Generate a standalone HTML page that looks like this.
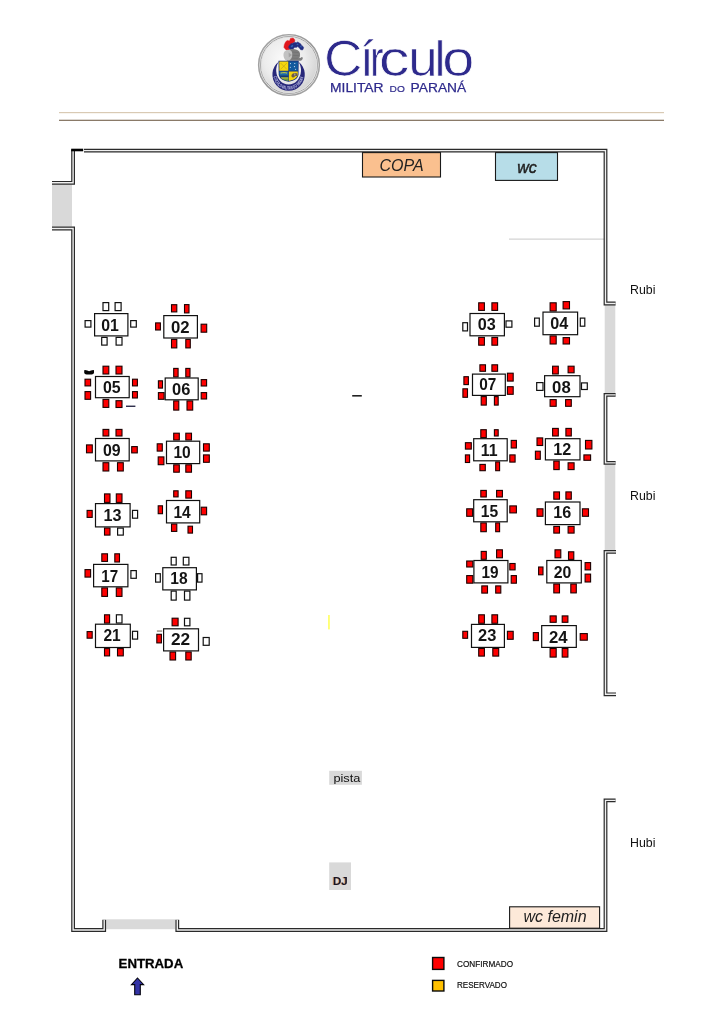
<!DOCTYPE html>
<html lang="pt-BR">
<head>
<meta charset="utf-8">
<title>Círculo Militar do Paraná - Mapa de Mesas</title>
<style>
html,body{margin:0;padding:0;background:#fff;}
body{width:724px;height:1024px;overflow:hidden;position:relative;font-family:"Liberation Sans",sans-serif;}
svg{position:absolute;left:0;top:0;display:block;will-change:transform;}
text{font-family:"Liberation Sans",sans-serif;}
.n{font-weight:bold;font-size:16.5px;fill:#141414;}
.lab{font-size:13px;fill:#111;}
.box{font-style:italic;font-size:16px;fill:#222;}
.leg{font-size:8.8px;fill:#111;stroke:#111;stroke-width:0.2px;}
</style>
</head>
<body>
<svg width="724" height="1024" viewBox="0 0 724 1024">
<defs>
<radialGradient id="bg" cx="42%" cy="40%" r="62%">
<stop offset="0" stop-color="#fbfbfb"/><stop offset="0.6" stop-color="#ececec"/><stop offset="1" stop-color="#d4d4d4"/>
</radialGradient>
<linearGradient id="ring" x1="0" y1="0" x2="1" y2="1">
<stop offset="0" stop-color="#aaaaaa"/><stop offset="0.5" stop-color="#989898"/><stop offset="1" stop-color="#a6a6a6"/>
</linearGradient>
</defs>

<!-- header logo -->
<g id="logo">
<circle cx="289" cy="65" r="27.6" fill="url(#bg)"/>
<circle cx="289" cy="65" r="30.25" fill="none" stroke="url(#ring)" stroke-width="1.7"/>
<circle cx="289" cy="65" r="29.2" fill="none" stroke="#d8d8d8" stroke-width="0.8"/>
<circle cx="289" cy="65" r="28.45" fill="none" stroke="#8c8c8c" stroke-width="0.85"/>
<circle cx="289" cy="65" r="27.75" fill="none" stroke="#dcdcdc" stroke-width="0.7"/>
<!-- crescent ribbon -->
<path id="cresc" d="M278.98,61.57 A16.2,16.2 0 1 0 298.22,61.57 A12.4,14 0 1 1 278.98,61.57 Z" fill="#28287a"/>
<path id="arc" d="M273.6,76.6 A15.15,15.15 0 0 0 303.6,76.6" fill="none"/>
<text font-size="4.8" font-weight="bold" fill="#b9bce4"><textPath href="#arc" startOffset="0" textLength="44.5" lengthAdjust="spacingAndGlyphs">CÍRCULO MILITAR DO PARANÁ</textPath></text>
<!-- plumes -->
<path d="M287.6,50.4 L285.6,49.4 L283.9,47.3 L284.4,44.4 L285.7,41.8 L287.3,40.5 L289.5,41 L290.5,38.4 L293.1,38 L294.9,39.9 L294.4,41.9 L292.4,43.2 L290.4,45.4 L289.6,48 L289.4,49.8 Z" fill="#e0161c" stroke="#e0161c" stroke-width="0.5" stroke-linejoin="round"/>
<path d="M288.5,47.2 L289.6,45 L291,43.7 L292.8,43.3 L294.7,42.2 L296.3,42.7 L297.8,41.9 L299.3,43 L300.6,43.8 L301.6,45.4 L303,46.4 L303.7,47.8 L302.6,50 L300.7,49.7 L299.6,48.2 L297.8,46.6 L296.2,47.4 L294.7,47.2 L293.3,48.8 L292,50.2 L289.9,49.2 Z" fill="#222c80" stroke="#222c80" stroke-width="0.5" stroke-linejoin="round"/>
<path d="M290.6,46.4 L292.2,44.8 L293.4,45.6 L292,47.4 Z M296.4,44 L298,43.6 L298.6,44.8 L297,45.2 Z M300.6,45.6 L301.8,46.8 L301.2,47.8 L300,46.6 Z" fill="#2f62b4"/>
<!-- helmet -->
<path d="M291,49.1 C294,48.4 297.6,49.4 299.4,51.7 C300.4,53.6 300.2,56.2 299.4,58 C300.6,58.2 301.2,57.2 302,57 C303,57.4 303,58.6 302.3,59.4 C301.4,60.6 300.4,60.9 299.9,60.8 L287,60.8 L287,51 Z" fill="#7e7e7e"/>
<path d="M283.5,55.4 C283.3,52 285.6,49.8 288.6,49.8 C290.6,49.8 292,51 292.2,53.2 C292.6,56.6 291.4,59.4 288.8,60.6 L286.2,60.6 C284.6,59.6 283.6,57.6 283.5,55.4 Z" fill="#c2c2c2"/>
<path d="M288.6,52.6 L292,55 L288.8,57.4 Z" fill="#a4a4a4"/>
<path d="M292.4,52 L298.6,52.6 M292.6,55.4 L298.8,55.6 M292.2,58.2 L298,58.4" stroke="#6a6a6a" stroke-width="0.5" fill="none"/>
<!-- shield -->
<path d="M278.5,60.7 L298.7,60.7 L298.5,74.6 C298.3,78.4 294.4,80.8 288.6,81.8 C282.8,80.8 278.9,78.4 278.7,74.6 Z" fill="#1b2f78"/>
<path d="M279.3,61.4 L288.3,61.4 L288.3,70.8 L279.4,70.8 Z" fill="#f4d70c"/>
<path d="M280.6,63 L286.9,69.4 M286.9,63 L280.6,69.4" stroke="#b49a20" stroke-width="0.55" fill="none"/>
<path d="M288.9,61.4 L297.9,61.4 L297.8,70.8 L288.9,70.8 Z" fill="#125a9e"/>
<g fill="#e6eefc"><circle cx="290.4" cy="63.6" r="0.55"/><circle cx="294.8" cy="63.5" r="0.55"/><circle cx="290.3" cy="67.2" r="0.5"/><circle cx="294.4" cy="66.6" r="0.55"/><circle cx="295.6" cy="69.2" r="0.5"/></g>
<path d="M279.4,71.4 L288.3,71.4 L288.3,81 C283.6,80.2 279.6,78 279.5,74.6 Z" fill="#1a69a8"/>
<path d="M280.4,72.6 C282.6,71.9 285.4,71.9 287.4,72.6 L287,73.7 C285,73.2 282.8,73.2 280.8,73.7 Z" fill="#b9c24a"/>
<path d="M279.8,75.6 L288.3,75.6 L288.3,77.4 L280.6,77.4 Z" fill="#173a70"/>
<path d="M280.7,77.5 L288.3,77.5 L288.3,81 C285.2,80.4 282.2,79.4 280.7,77.5 Z" fill="#6b9c34"/>
<path d="M281,77.6 L288.3,77.6 L288.3,78.4 L281.6,78.4 Z" fill="#c8b63c"/>
<path d="M288.9,71.4 L297.8,71.4 L297.7,74.6 C297.6,78 293.6,80.2 288.9,81 Z" fill="#f4d40c"/>
<path d="M291.4,76 C291.4,73.8 293.6,72.6 296.4,73 L297.4,74 L297.2,76.2 C295.8,75.8 294.6,76.4 293.6,77.6 C292.6,77.6 291.6,77 291.4,76 Z" fill="#6e5a48"/>
<path d="M294,73.6 L295.6,73.4 L295.4,75.4 L294,75.6 Z" fill="#9a9a9a"/>
</g>
<g id="logotext" fill="#2e2a8c">
<text y="76" font-size="49.6" stroke="#ffffff" stroke-width="0.7"><tspan x="323.90" textLength="38.43" lengthAdjust="spacingAndGlyphs">C</tspan><tspan x="359.95" textLength="13.78" lengthAdjust="spacingAndGlyphs">í</tspan><tspan x="370.10" textLength="13.54" lengthAdjust="spacingAndGlyphs">r</tspan><tspan x="378.89" textLength="30.73" lengthAdjust="spacingAndGlyphs">c</tspan><tspan x="408.26" textLength="29.46" lengthAdjust="spacingAndGlyphs">u</tspan><tspan x="434.48" textLength="11.02" lengthAdjust="spacingAndGlyphs">l</tspan><tspan x="442.18" textLength="32.04" lengthAdjust="spacingAndGlyphs">o</tspan></text>
<text x="330" y="92" font-size="13" textLength="53.6" lengthAdjust="spacingAndGlyphs" stroke="#2e2a8c" stroke-width="0.25">MILITAR</text>
<text x="389.6" y="92" font-size="9.6" textLength="15.2" lengthAdjust="spacingAndGlyphs" stroke="#2e2a8c" stroke-width="0.2">DO</text>
<text x="410.6" y="92" font-size="13" textLength="55.6" lengthAdjust="spacingAndGlyphs" stroke="#2e2a8c" stroke-width="0.25">PARANÁ</text>
</g>
<rect x="59" y="112" width="605" height="1.2" fill="#d9cab4"/>
<rect x="59" y="119.7" width="605" height="1.3" fill="#8a7a68"/>

<!-- grey openings -->
<rect x="52" y="184.5" width="20" height="42.2" fill="#d9d9d9"/>
<rect x="604.7" y="305" width="10.6" height="88.2" fill="#d9d9d9"/>
<rect x="604.7" y="464.6" width="10.6" height="85.8" fill="#d9d9d9"/>
<rect x="106" y="919.3" width="69.4" height="9.9" fill="#d9d9d9"/>
<rect x="509" y="238.6" width="95" height="1" fill="#c9c9c9"/>

<path d="M52,182.8 L73.1,182.8 L73.1,149.4 M84,150.6 L605.5,150.6 L605.5,303.5 L615.6,303.5 M52,228.5 L73.1,228.5 L73.1,930 L104.2,930 L104.2,919.8 M177.3,919.8 L177.3,930 L605.5,930 L605.5,800.4 L615.6,800.4 M615.6,394.9 L605.5,394.9 L605.5,462.9 L615.6,462.9 M616,551.9 L605.5,551.9 L605.5,694.3 L616,694.3" fill="none" stroke="#2a2a2a" stroke-width="3.8" stroke-linejoin="miter"/>
<path d="M52,182.8 L73.1,182.8 L73.1,149.4 M84,150.6 L605.5,150.6 L605.5,303.5 L615.6,303.5 M52,228.5 L73.1,228.5 L73.1,930 L104.2,930 L104.2,919.8 M177.3,919.8 L177.3,930 L605.5,930 L605.5,800.4 L615.6,800.4 M615.6,394.9 L605.5,394.9 L605.5,462.9 L615.6,462.9 M616,551.9 L605.5,551.9 L605.5,694.3 L616,694.3" fill="none" stroke="#efefef" stroke-width="1.4" stroke-linejoin="miter"/>
<rect x="71.2" y="148.7" width="12" height="2.6" fill="#000"/>

<!-- rooms -->
<rect x="362.5" y="152.6" width="78" height="24.4" fill="#fac08f" stroke="#1a1a1a" stroke-width="1.1"/>
<text class="box" x="401.5" y="170.6" text-anchor="middle" font-size="15.5">COPA</text>
<rect x="495.5" y="152.6" width="62" height="27.8" fill="#b7dde8" stroke="#1a1a1a" stroke-width="1.1"/>
<text class="box" x="527" y="172.8" text-anchor="middle" stroke="#222" stroke-width="0.45">wc</text>
<rect x="509.6" y="906.8" width="90" height="21.4" fill="#fde9d9" stroke="#1a1a1a" stroke-width="1.1"/>
<text class="box" x="555" y="922.4" text-anchor="middle">wc femin</text>

<text class="lab" x="630" y="293.6" textLength="25.4" lengthAdjust="spacingAndGlyphs">Rubi</text>
<text class="lab" x="630" y="500" textLength="25.4" lengthAdjust="spacingAndGlyphs">Rubi</text>
<text class="lab" x="630" y="847" textLength="25.4" lengthAdjust="spacingAndGlyphs">Hubi</text>

<!-- stray marks -->
<path d="M84.2,370.6 Q84.3,370 85,370.1 Q87.5,370.3 89.1,371.3 Q90.8,370.3 93.3,370.1 Q94,370 94,370.6 L94,372.8 Q93.8,374.6 91.6,374.6 L86.6,374.6 Q84.4,374.6 84.2,372.8 Z" fill="#050505"/>
<rect x="126" y="405.6" width="9.4" height="1.3" fill="#1a1a3a"/>
<rect x="352.2" y="395" width="9.6" height="1.6" fill="#222"/>
<rect x="156.9" y="630.5" width="5.3" height="1.1" fill="#7a6a5a"/>
<rect x="328.1" y="615" width="1.7" height="14.4" fill="#ffff66"/>

<g id="tables">
<g>
<rect x="103" y="302.6" width="5.7" height="8" fill="#ffffff" stroke="#111" stroke-width="1.2"/>
<rect x="115.1" y="302.6" width="6" height="8" fill="#ffffff" stroke="#111" stroke-width="1.2"/>
<rect x="85.1" y="320.6" width="5.8" height="6.5" fill="#ffffff" stroke="#111" stroke-width="1.2"/>
<rect x="130.7" y="320.6" width="5.6" height="6.5" fill="#ffffff" stroke="#111" stroke-width="1.2"/>
<rect x="101.7" y="337.4" width="5.4" height="7.7" fill="#ffffff" stroke="#111" stroke-width="1.2"/>
<rect x="116.1" y="337.4" width="5.9" height="7.7" fill="#ffffff" stroke="#111" stroke-width="1.2"/>
<rect x="94.6" y="313.6" width="33.3" height="22.3" fill="#fff" stroke="#111" stroke-width="1.2"/>
<text class="n" x="101.3" y="330.6" textLength="17.6" lengthAdjust="spacingAndGlyphs">01</text>
</g>
<g>
<rect x="171.5" y="304.7" width="5.3" height="7.2" fill="#ff0000" stroke="#1c0000" stroke-width="1.1"/>
<rect x="184.5" y="304.6" width="4.5" height="8.3" fill="#ff0000" stroke="#1c0000" stroke-width="1.1"/>
<rect x="155.6" y="322.9" width="4.8" height="7.1" fill="#ff0000" stroke="#1c0000" stroke-width="1.1"/>
<rect x="201.1" y="324.2" width="5.6" height="8" fill="#ff0000" stroke="#1c0000" stroke-width="1.1"/>
<rect x="171.5" y="339.4" width="5.3" height="8.5" fill="#ff0000" stroke="#1c0000" stroke-width="1.1"/>
<rect x="185.8" y="339.4" width="4.5" height="8.5" fill="#ff0000" stroke="#1c0000" stroke-width="1.1"/>
<rect x="163.8" y="315.6" width="33.6" height="22.4" fill="#fff" stroke="#111" stroke-width="1.2"/>
<text class="n" x="170.9" y="332.7" textLength="18.6" lengthAdjust="spacingAndGlyphs">02</text>
</g>
<g>
<rect x="103" y="366.2" width="5.8" height="7.8" fill="#ff0000" stroke="#1c0000" stroke-width="1.1"/>
<rect x="116" y="366.2" width="6" height="7.8" fill="#ff0000" stroke="#1c0000" stroke-width="1.1"/>
<rect x="85" y="379.2" width="5.6" height="6.7" fill="#ff0000" stroke="#1c0000" stroke-width="1.1"/>
<rect x="85" y="391.6" width="5.6" height="7.7" fill="#ff0000" stroke="#1c0000" stroke-width="1.1"/>
<rect x="132.5" y="379.2" width="4.9" height="6.7" fill="#ff0000" stroke="#1c0000" stroke-width="1.1"/>
<rect x="132.5" y="391.6" width="4.9" height="6.4" fill="#ff0000" stroke="#1c0000" stroke-width="1.1"/>
<rect x="103" y="399.4" width="5.8" height="8" fill="#ff0000" stroke="#1c0000" stroke-width="1.1"/>
<rect x="116" y="400.7" width="6" height="6.8" fill="#ff0000" stroke="#1c0000" stroke-width="1.1"/>
<rect x="95.5" y="376.5" width="33.7" height="21.2" fill="#fff" stroke="#111" stroke-width="1.2"/>
<text class="n" x="103" y="392.7" textLength="17.7" lengthAdjust="spacingAndGlyphs">05</text>
</g>
<g>
<rect x="173.7" y="368.4" width="4.4" height="8.5" fill="#ff0000" stroke="#1c0000" stroke-width="1.1"/>
<rect x="185.8" y="368.4" width="4.2" height="8.5" fill="#ff0000" stroke="#1c0000" stroke-width="1.1"/>
<rect x="158.4" y="380.8" width="4.1" height="7.3" fill="#ff0000" stroke="#1c0000" stroke-width="1.1"/>
<rect x="158.4" y="392.6" width="5.7" height="6.7" fill="#ff0000" stroke="#1c0000" stroke-width="1.1"/>
<rect x="201.2" y="379.6" width="5.4" height="6.4" fill="#ff0000" stroke="#1c0000" stroke-width="1.1"/>
<rect x="201.2" y="392.6" width="5.4" height="6.4" fill="#ff0000" stroke="#1c0000" stroke-width="1.1"/>
<rect x="173.7" y="400.9" width="5.1" height="9.2" fill="#ff0000" stroke="#1c0000" stroke-width="1.1"/>
<rect x="187" y="400.9" width="5.7" height="9.2" fill="#ff0000" stroke="#1c0000" stroke-width="1.1"/>
<rect x="165.2" y="378" width="33" height="21.8" fill="#fff" stroke="#111" stroke-width="1.2"/>
<text class="n" x="172.1" y="394.5" textLength="18.3" lengthAdjust="spacingAndGlyphs">06</text>
</g>
<g>
<rect x="103" y="429.4" width="5.8" height="6.6" fill="#ff0000" stroke="#1c0000" stroke-width="1.1"/>
<rect x="116" y="429.4" width="6" height="6.6" fill="#ff0000" stroke="#1c0000" stroke-width="1.1"/>
<rect x="86.5" y="444.9" width="5.8" height="7.9" fill="#ff0000" stroke="#1c0000" stroke-width="1.1"/>
<rect x="131.7" y="446.6" width="5.6" height="6.3" fill="#ff0000" stroke="#1c0000" stroke-width="1.1"/>
<rect x="103" y="462.7" width="5.8" height="8.3" fill="#ff0000" stroke="#1c0000" stroke-width="1.1"/>
<rect x="117.5" y="462.7" width="5.8" height="8.3" fill="#ff0000" stroke="#1c0000" stroke-width="1.1"/>
<rect x="95.5" y="438.5" width="33.7" height="22.4" fill="#fff" stroke="#111" stroke-width="1.2"/>
<text class="n" x="103" y="455.5" textLength="17.7" lengthAdjust="spacingAndGlyphs">09</text>
</g>
<g>
<rect x="173.7" y="433.2" width="5.6" height="6.8" fill="#ff0000" stroke="#1c0000" stroke-width="1.1"/>
<rect x="185.8" y="433.2" width="5.7" height="6.8" fill="#ff0000" stroke="#1c0000" stroke-width="1.1"/>
<rect x="157.2" y="443.8" width="5.1" height="7.3" fill="#ff0000" stroke="#1c0000" stroke-width="1.1"/>
<rect x="158.2" y="456.9" width="5.7" height="7.8" fill="#ff0000" stroke="#1c0000" stroke-width="1.1"/>
<rect x="203.5" y="443.8" width="5.8" height="7.3" fill="#ff0000" stroke="#1c0000" stroke-width="1.1"/>
<rect x="203.5" y="454.9" width="5.8" height="7.4" fill="#ff0000" stroke="#1c0000" stroke-width="1.1"/>
<rect x="173.7" y="464.8" width="5.6" height="7.4" fill="#ff0000" stroke="#1c0000" stroke-width="1.1"/>
<rect x="185.8" y="464.8" width="5.7" height="7.4" fill="#ff0000" stroke="#1c0000" stroke-width="1.1"/>
<rect x="166.5" y="441.2" width="33.2" height="22.4" fill="#fff" stroke="#111" stroke-width="1.2"/>
<text class="n" x="173.4" y="458.4" textLength="17.3" lengthAdjust="spacingAndGlyphs">10</text>
</g>
<g>
<rect x="104.5" y="493.9" width="5.5" height="8.5" fill="#ff0000" stroke="#1c0000" stroke-width="1.1"/>
<rect x="116.3" y="493.9" width="5.7" height="8.5" fill="#ff0000" stroke="#1c0000" stroke-width="1.1"/>
<rect x="87.1" y="510.4" width="5.1" height="7" fill="#ff0000" stroke="#1c0000" stroke-width="1.1"/>
<rect x="132.5" y="510.4" width="5.1" height="7.8" fill="#ffffff" stroke="#111" stroke-width="1.2"/>
<rect x="104.5" y="528" width="5.5" height="7.1" fill="#ff0000" stroke="#1c0000" stroke-width="1.1"/>
<rect x="117.6" y="528.1" width="5.7" height="7" fill="#ffffff" stroke="#111" stroke-width="1.2"/>
<rect x="95.5" y="503.6" width="34.6" height="23.3" fill="#fff" stroke="#111" stroke-width="1.2"/>
<text class="n" x="103.4" y="520.8" textLength="18" lengthAdjust="spacingAndGlyphs">13</text>
</g>
<g>
<rect x="173.7" y="490.8" width="4.4" height="6.1" fill="#ff0000" stroke="#1c0000" stroke-width="1.1"/>
<rect x="185.8" y="490.8" width="5.7" height="7.3" fill="#ff0000" stroke="#1c0000" stroke-width="1.1"/>
<rect x="158.2" y="505.8" width="4.3" height="7.9" fill="#ff0000" stroke="#1c0000" stroke-width="1.1"/>
<rect x="201.2" y="507.2" width="5.4" height="7.6" fill="#ff0000" stroke="#1c0000" stroke-width="1.1"/>
<rect x="171.5" y="524" width="5.3" height="7.4" fill="#ff0000" stroke="#1c0000" stroke-width="1.1"/>
<rect x="188" y="526.2" width="4.5" height="6.9" fill="#ff0000" stroke="#1c0000" stroke-width="1.1"/>
<rect x="166.5" y="500.5" width="33.2" height="22.4" fill="#fff" stroke="#111" stroke-width="1.2"/>
<text class="n" x="173.4" y="517.7" textLength="17.3" lengthAdjust="spacingAndGlyphs">14</text>
</g>
<g>
<rect x="101.8" y="553.8" width="5.7" height="7.6" fill="#ff0000" stroke="#1c0000" stroke-width="1.1"/>
<rect x="114.8" y="553.8" width="4.7" height="8.2" fill="#ff0000" stroke="#1c0000" stroke-width="1.1"/>
<rect x="85" y="569.6" width="5.6" height="7.5" fill="#ff0000" stroke="#1c0000" stroke-width="1.1"/>
<rect x="130.9" y="570.6" width="5.4" height="7.7" fill="#ffffff" stroke="#111" stroke-width="1.2"/>
<rect x="101.8" y="587.9" width="5.7" height="8.5" fill="#ff0000" stroke="#1c0000" stroke-width="1.1"/>
<rect x="116.3" y="587.9" width="5.7" height="8.5" fill="#ff0000" stroke="#1c0000" stroke-width="1.1"/>
<rect x="93.6" y="564.4" width="34.3" height="22.4" fill="#fff" stroke="#111" stroke-width="1.2"/>
<text class="n" x="101.3" y="581.5" textLength="16.9" lengthAdjust="spacingAndGlyphs">17</text>
</g>
<g>
<rect x="171.2" y="557.3" width="5" height="7.7" fill="#ffffff" stroke="#111" stroke-width="1.2"/>
<rect x="183.3" y="557.3" width="5.6" height="7.7" fill="#ffffff" stroke="#111" stroke-width="1.2"/>
<rect x="155.6" y="573.7" width="4.7" height="8.4" fill="#ffffff" stroke="#111" stroke-width="1.2"/>
<rect x="197.6" y="573.7" width="4.4" height="8.4" fill="#ffffff" stroke="#111" stroke-width="1.2"/>
<rect x="171.2" y="591.1" width="5" height="9" fill="#ffffff" stroke="#111" stroke-width="1.2"/>
<rect x="184.5" y="591.1" width="5.4" height="9" fill="#ffffff" stroke="#111" stroke-width="1.2"/>
<rect x="162.8" y="567.7" width="33.6" height="22.2" fill="#fff" stroke="#111" stroke-width="1.2"/>
<text class="n" x="170.3" y="584.3" textLength="17.3" lengthAdjust="spacingAndGlyphs">18</text>
</g>
<g>
<rect x="104.5" y="614.8" width="5.1" height="8.3" fill="#ff0000" stroke="#1c0000" stroke-width="1.1"/>
<rect x="116.4" y="614.8" width="5.6" height="8.2" fill="#ffffff" stroke="#111" stroke-width="1.2"/>
<rect x="87.1" y="631.6" width="5.1" height="6.6" fill="#ff0000" stroke="#1c0000" stroke-width="1.1"/>
<rect x="132.5" y="631.3" width="5.1" height="7.8" fill="#ffffff" stroke="#111" stroke-width="1.2"/>
<rect x="104.5" y="648.6" width="5.1" height="7.3" fill="#ff0000" stroke="#1c0000" stroke-width="1.1"/>
<rect x="117.5" y="648.6" width="5.8" height="7.3" fill="#ff0000" stroke="#1c0000" stroke-width="1.1"/>
<rect x="95.5" y="624.2" width="34.8" height="23.3" fill="#fff" stroke="#111" stroke-width="1.2"/>
<text class="n" x="103.4" y="641.3" textLength="17.3" lengthAdjust="spacingAndGlyphs">21</text>
</g>
<g>
<rect x="172.1" y="618.2" width="6" height="7.6" fill="#ff0000" stroke="#1c0000" stroke-width="1.1"/>
<rect x="184.5" y="618.3" width="5.4" height="7.5" fill="#ffffff" stroke="#111" stroke-width="1.2"/>
<rect x="156.8" y="634.3" width="4.6" height="8.6" fill="#ff0000" stroke="#1c0000" stroke-width="1.1"/>
<rect x="203.2" y="637.5" width="6" height="7.8" fill="#ffffff" stroke="#111" stroke-width="1.2"/>
<rect x="170" y="652" width="5.6" height="8" fill="#ff0000" stroke="#1c0000" stroke-width="1.1"/>
<rect x="185.8" y="652" width="5.4" height="8" fill="#ff0000" stroke="#1c0000" stroke-width="1.1"/>
<rect x="163.6" y="628.8" width="34.9" height="22.1" fill="#fff" stroke="#111" stroke-width="1.2"/>
<text class="n" x="170.9" y="644.8" textLength="19.2" lengthAdjust="spacingAndGlyphs">22</text>
</g>
<g>
<rect x="478.7" y="302.8" width="5.7" height="7.6" fill="#ff0000" stroke="#1c0000" stroke-width="1.1"/>
<rect x="491.9" y="302.8" width="5.7" height="7.6" fill="#ff0000" stroke="#1c0000" stroke-width="1.1"/>
<rect x="462.8" y="322.7" width="4.7" height="8.2" fill="#ffffff" stroke="#111" stroke-width="1.2"/>
<rect x="506" y="320.9" width="5.9" height="6.3" fill="#ffffff" stroke="#111" stroke-width="1.2"/>
<rect x="478.7" y="337.4" width="5.7" height="7.8" fill="#ff0000" stroke="#1c0000" stroke-width="1.1"/>
<rect x="491.9" y="337.4" width="5.7" height="7.8" fill="#ff0000" stroke="#1c0000" stroke-width="1.1"/>
<rect x="470" y="313.5" width="34.4" height="22.3" fill="#fff" stroke="#111" stroke-width="1.2"/>
<text class="n" x="477.7" y="330.3" textLength="18" lengthAdjust="spacingAndGlyphs">03</text>
</g>
<g>
<rect x="550.1" y="302.8" width="6.1" height="8.2" fill="#ff0000" stroke="#1c0000" stroke-width="1.1"/>
<rect x="563.1" y="301.6" width="6.4" height="7.3" fill="#ff0000" stroke="#1c0000" stroke-width="1.1"/>
<rect x="534.6" y="318.1" width="4.7" height="8.1" fill="#ffffff" stroke="#111" stroke-width="1.2"/>
<rect x="580.3" y="318.1" width="4.5" height="8.1" fill="#ffffff" stroke="#111" stroke-width="1.2"/>
<rect x="550.1" y="335.9" width="6.1" height="8.1" fill="#ff0000" stroke="#1c0000" stroke-width="1.1"/>
<rect x="563.1" y="337.6" width="6.4" height="6.4" fill="#ff0000" stroke="#1c0000" stroke-width="1.1"/>
<rect x="543" y="312.1" width="34.6" height="22.6" fill="#fff" stroke="#111" stroke-width="1.2"/>
<text class="n" x="550.2" y="329.3" textLength="18" lengthAdjust="spacingAndGlyphs">04</text>
</g>
<g>
<rect x="479.9" y="364.8" width="5.6" height="6.5" fill="#ff0000" stroke="#1c0000" stroke-width="1.1"/>
<rect x="491.9" y="364.8" width="5.7" height="6.5" fill="#ff0000" stroke="#1c0000" stroke-width="1.1"/>
<rect x="463.9" y="376.7" width="4.5" height="7.9" fill="#ff0000" stroke="#1c0000" stroke-width="1.1"/>
<rect x="462.9" y="388.8" width="4.6" height="8.5" fill="#ff0000" stroke="#1c0000" stroke-width="1.1"/>
<rect x="507.4" y="373.2" width="5.8" height="7.9" fill="#ff0000" stroke="#1c0000" stroke-width="1.1"/>
<rect x="507.4" y="386.7" width="5.8" height="7.6" fill="#ff0000" stroke="#1c0000" stroke-width="1.1"/>
<rect x="481.2" y="396.6" width="5.1" height="8.5" fill="#ff0000" stroke="#1c0000" stroke-width="1.1"/>
<rect x="494.4" y="396.6" width="3.8" height="8.5" fill="#ff0000" stroke="#1c0000" stroke-width="1.1"/>
<rect x="472.5" y="374.1" width="32.8" height="21.3" fill="#fff" stroke="#111" stroke-width="1.2"/>
<text class="n" x="479.2" y="390.1" textLength="17.1" lengthAdjust="spacingAndGlyphs">07</text>
</g>
<g>
<rect x="552.6" y="366.2" width="5.7" height="7.8" fill="#ff0000" stroke="#1c0000" stroke-width="1.1"/>
<rect x="568.1" y="366.2" width="6" height="6.6" fill="#ff0000" stroke="#1c0000" stroke-width="1.1"/>
<rect x="536.7" y="382.6" width="6.3" height="7.8" fill="#ffffff" stroke="#111" stroke-width="1.2"/>
<rect x="581.5" y="382.9" width="5.8" height="6.6" fill="#ffffff" stroke="#111" stroke-width="1.2"/>
<rect x="550.1" y="399.6" width="6.1" height="6.7" fill="#ff0000" stroke="#1c0000" stroke-width="1.1"/>
<rect x="565.6" y="399.6" width="5.7" height="6.7" fill="#ff0000" stroke="#1c0000" stroke-width="1.1"/>
<rect x="544.6" y="375.7" width="35.4" height="21" fill="#fff" stroke="#111" stroke-width="1.2"/>
<text class="n" x="552.1" y="392.5" textLength="18.6" lengthAdjust="spacingAndGlyphs">08</text>
</g>
<g>
<rect x="480.8" y="429.7" width="5.5" height="7.9" fill="#ff0000" stroke="#1c0000" stroke-width="1.1"/>
<rect x="494.4" y="429.7" width="3.8" height="6.3" fill="#ff0000" stroke="#1c0000" stroke-width="1.1"/>
<rect x="465.4" y="442.7" width="5.9" height="6.4" fill="#ff0000" stroke="#1c0000" stroke-width="1.1"/>
<rect x="465.4" y="454.9" width="4.2" height="7.6" fill="#ff0000" stroke="#1c0000" stroke-width="1.1"/>
<rect x="511.2" y="440.4" width="5.2" height="7.6" fill="#ff0000" stroke="#1c0000" stroke-width="1.1"/>
<rect x="509.8" y="454.9" width="5.3" height="7.2" fill="#ff0000" stroke="#1c0000" stroke-width="1.1"/>
<rect x="479.9" y="464.4" width="5.4" height="6.3" fill="#ff0000" stroke="#1c0000" stroke-width="1.1"/>
<rect x="495.7" y="461.9" width="3.9" height="8.8" fill="#ff0000" stroke="#1c0000" stroke-width="1.1"/>
<rect x="473.7" y="438.7" width="33.5" height="22.1" fill="#fff" stroke="#111" stroke-width="1.2"/>
<text class="n" x="480.8" y="455.8" textLength="16.8" lengthAdjust="spacingAndGlyphs">11</text>
</g>
<g>
<rect x="552.6" y="428.4" width="5.7" height="7.6" fill="#ff0000" stroke="#1c0000" stroke-width="1.1"/>
<rect x="565.9" y="428.4" width="5.4" height="7.6" fill="#ff0000" stroke="#1c0000" stroke-width="1.1"/>
<rect x="537" y="437.9" width="5.7" height="7.6" fill="#ff0000" stroke="#1c0000" stroke-width="1.1"/>
<rect x="535.4" y="451.2" width="4.9" height="8.1" fill="#ff0000" stroke="#1c0000" stroke-width="1.1"/>
<rect x="585.5" y="440.4" width="6.4" height="8.6" fill="#ff0000" stroke="#1c0000" stroke-width="1.1"/>
<rect x="583.9" y="454.9" width="6.7" height="5.4" fill="#ff0000" stroke="#1c0000" stroke-width="1.1"/>
<rect x="553.8" y="461.1" width="5.4" height="8.5" fill="#ff0000" stroke="#1c0000" stroke-width="1.1"/>
<rect x="568.1" y="462.8" width="6" height="6.8" fill="#ff0000" stroke="#1c0000" stroke-width="1.1"/>
<rect x="545.4" y="438.7" width="34.6" height="21.2" fill="#fff" stroke="#111" stroke-width="1.2"/>
<text class="n" x="553.3" y="454.5" textLength="18" lengthAdjust="spacingAndGlyphs">12</text>
</g>
<g>
<rect x="480.8" y="490.4" width="5.5" height="6.6" fill="#ff0000" stroke="#1c0000" stroke-width="1.1"/>
<rect x="496.6" y="490.4" width="5.8" height="6.6" fill="#ff0000" stroke="#1c0000" stroke-width="1.1"/>
<rect x="466.7" y="508.8" width="5.9" height="7.5" fill="#ff0000" stroke="#1c0000" stroke-width="1.1"/>
<rect x="509.8" y="505.9" width="6.6" height="7" fill="#ff0000" stroke="#1c0000" stroke-width="1.1"/>
<rect x="480.8" y="522.9" width="5.5" height="8.8" fill="#ff0000" stroke="#1c0000" stroke-width="1.1"/>
<rect x="495.7" y="522.9" width="3.9" height="8.8" fill="#ff0000" stroke="#1c0000" stroke-width="1.1"/>
<rect x="473.7" y="499.7" width="33.5" height="22.1" fill="#fff" stroke="#111" stroke-width="1.2"/>
<text class="n" x="480.8" y="516.5" textLength="17.4" lengthAdjust="spacingAndGlyphs">15</text>
</g>
<g>
<rect x="553.8" y="491.9" width="5.7" height="7.3" fill="#ff0000" stroke="#1c0000" stroke-width="1.1"/>
<rect x="565.9" y="491.9" width="5.4" height="7.3" fill="#ff0000" stroke="#1c0000" stroke-width="1.1"/>
<rect x="537" y="508.8" width="6" height="7.5" fill="#ff0000" stroke="#1c0000" stroke-width="1.1"/>
<rect x="582.4" y="508.8" width="6.1" height="7.5" fill="#ff0000" stroke="#1c0000" stroke-width="1.1"/>
<rect x="553.8" y="526.4" width="5.7" height="6.7" fill="#ff0000" stroke="#1c0000" stroke-width="1.1"/>
<rect x="568.1" y="526.4" width="6" height="6.7" fill="#ff0000" stroke="#1c0000" stroke-width="1.1"/>
<rect x="545.4" y="502" width="34.6" height="22.6" fill="#fff" stroke="#111" stroke-width="1.2"/>
<text class="n" x="553.3" y="517.8" textLength="18" lengthAdjust="spacingAndGlyphs">16</text>
</g>
<g>
<rect x="481.2" y="551.4" width="5.1" height="7.9" fill="#ff0000" stroke="#1c0000" stroke-width="1.1"/>
<rect x="496.6" y="549.8" width="5.8" height="8" fill="#ff0000" stroke="#1c0000" stroke-width="1.1"/>
<rect x="466.7" y="561" width="6.1" height="6" fill="#ff0000" stroke="#1c0000" stroke-width="1.1"/>
<rect x="466.7" y="575.6" width="6.1" height="7.6" fill="#ff0000" stroke="#1c0000" stroke-width="1.1"/>
<rect x="509.8" y="563.5" width="5.3" height="6.4" fill="#ff0000" stroke="#1c0000" stroke-width="1.1"/>
<rect x="511.2" y="575.6" width="5.2" height="7.6" fill="#ff0000" stroke="#1c0000" stroke-width="1.1"/>
<rect x="481.8" y="585.9" width="5.7" height="7.2" fill="#ff0000" stroke="#1c0000" stroke-width="1.1"/>
<rect x="495.7" y="585.9" width="5.1" height="7.2" fill="#ff0000" stroke="#1c0000" stroke-width="1.1"/>
<rect x="473.9" y="560.5" width="34" height="22.4" fill="#fff" stroke="#111" stroke-width="1.2"/>
<text class="n" x="481.5" y="577.5" textLength="17.1" lengthAdjust="spacingAndGlyphs">19</text>
</g>
<g>
<rect x="555" y="549.8" width="5.8" height="8" fill="#ff0000" stroke="#1c0000" stroke-width="1.1"/>
<rect x="568.5" y="551.8" width="5.3" height="7.6" fill="#ff0000" stroke="#1c0000" stroke-width="1.1"/>
<rect x="538.6" y="567" width="4.4" height="7.8" fill="#ff0000" stroke="#1c0000" stroke-width="1.1"/>
<rect x="585.1" y="562.6" width="5.5" height="7.3" fill="#ff0000" stroke="#1c0000" stroke-width="1.1"/>
<rect x="585.1" y="574.1" width="5.5" height="7.9" fill="#ff0000" stroke="#1c0000" stroke-width="1.1"/>
<rect x="553.8" y="584" width="5.7" height="8.9" fill="#ff0000" stroke="#1c0000" stroke-width="1.1"/>
<rect x="570.8" y="584" width="5.5" height="8.9" fill="#ff0000" stroke="#1c0000" stroke-width="1.1"/>
<rect x="546.8" y="560.5" width="34.5" height="22.4" fill="#fff" stroke="#111" stroke-width="1.2"/>
<text class="n" x="553.7" y="577.5" textLength="17.6" lengthAdjust="spacingAndGlyphs">20</text>
</g>
<g>
<rect x="478.7" y="614.8" width="5.7" height="8.5" fill="#ff0000" stroke="#1c0000" stroke-width="1.1"/>
<rect x="491.9" y="614.8" width="5.7" height="8.5" fill="#ff0000" stroke="#1c0000" stroke-width="1.1"/>
<rect x="462.8" y="631.3" width="4.8" height="7" fill="#ff0000" stroke="#1c0000" stroke-width="1.1"/>
<rect x="507.4" y="631.3" width="5.8" height="8" fill="#ff0000" stroke="#1c0000" stroke-width="1.1"/>
<rect x="478.7" y="648.5" width="5.7" height="7.6" fill="#ff0000" stroke="#1c0000" stroke-width="1.1"/>
<rect x="492.8" y="648.5" width="5.9" height="7.6" fill="#ff0000" stroke="#1c0000" stroke-width="1.1"/>
<rect x="471.5" y="624.4" width="32.9" height="23" fill="#fff" stroke="#111" stroke-width="1.2"/>
<text class="n" x="478" y="641.2" textLength="18.3" lengthAdjust="spacingAndGlyphs">23</text>
</g>
<g>
<rect x="550.1" y="615.9" width="6.1" height="6.4" fill="#ff0000" stroke="#1c0000" stroke-width="1.1"/>
<rect x="562.2" y="615.9" width="5.7" height="6.4" fill="#ff0000" stroke="#1c0000" stroke-width="1.1"/>
<rect x="533.3" y="632.6" width="5.1" height="8" fill="#ff0000" stroke="#1c0000" stroke-width="1.1"/>
<rect x="580.2" y="633.6" width="7.1" height="6.6" fill="#ff0000" stroke="#1c0000" stroke-width="1.1"/>
<rect x="550.1" y="648.5" width="6.1" height="8.6" fill="#ff0000" stroke="#1c0000" stroke-width="1.1"/>
<rect x="562.2" y="648.5" width="5.7" height="8.6" fill="#ff0000" stroke="#1c0000" stroke-width="1.1"/>
<rect x="541.7" y="625.6" width="34.6" height="21.8" fill="#fff" stroke="#111" stroke-width="1.2"/>
<text class="n" x="549" y="642.8" textLength="18.6" lengthAdjust="spacingAndGlyphs">24</text>
</g>
</g>

<!-- pista / DJ -->
<rect x="329.2" y="770.8" width="32.7" height="14" fill="#d9d9d9"/>
<text x="333.4" y="782.4" font-size="11.4" fill="#111" textLength="27" lengthAdjust="spacingAndGlyphs">pista</text>
<rect x="329.2" y="862.4" width="21.8" height="27.6" fill="#d9d9d9"/>
<text x="333" y="885.2" font-size="11.6" font-weight="bold" fill="#15152a" style="filter:drop-shadow(-0.6px 0 0 rgba(216,140,70,0.8))" textLength="14.8" lengthAdjust="spacingAndGlyphs">DJ</text>

<!-- entrada -->
<text x="118.6" y="968" font-size="13.2" font-weight="bold" fill="#000" stroke="#000" stroke-width="0.3" textLength="64.6" lengthAdjust="spacingAndGlyphs">ENTRADA</text>
<path d="M137.5,978 L143.6,984.6 L140.3,984.6 L140.3,994.8 L134.7,994.8 L134.7,984.6 L131.5,984.6 Z" fill="#3333a6" stroke="#05050f" stroke-width="1.1" stroke-linejoin="miter"/>

<!-- legend -->
<rect x="432.6" y="957.5" width="11.3" height="11.9" fill="#ff0000" stroke="#0a0a0a" stroke-width="1.4"/>
<rect x="432.6" y="980.4" width="11.3" height="10.6" fill="#ffc000" stroke="#0a0a0a" stroke-width="1.4"/>
<text class="leg" x="457" y="966.5" textLength="56" lengthAdjust="spacingAndGlyphs">CONFIRMADO</text>
<text class="leg" x="457" y="987.9" textLength="50" lengthAdjust="spacingAndGlyphs">RESERVADO</text>
</svg>
</body>
</html>
